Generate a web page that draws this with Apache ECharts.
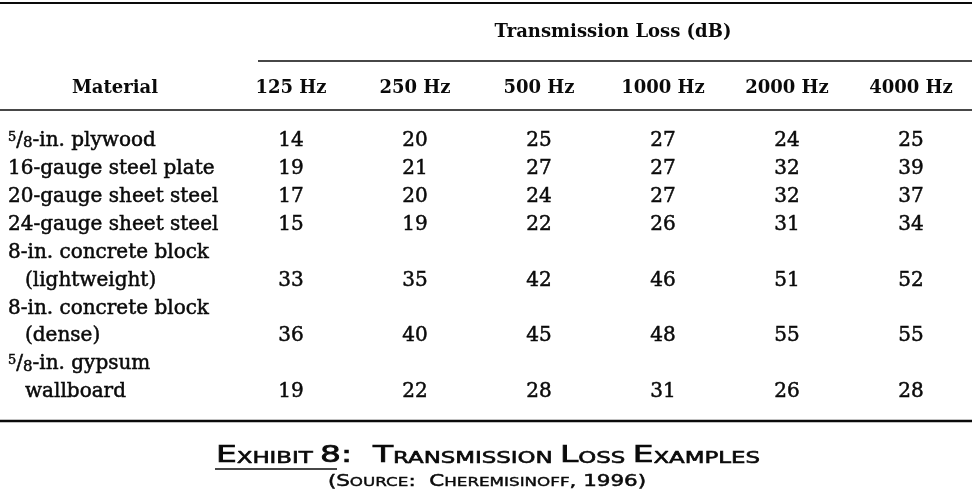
<!DOCTYPE html>
<html>
<head>
<meta charset="utf-8">
<script src="https://cdn.jsdelivr.net/npm/echarts@6/dist/echarts.min.js"></script>
<style>
  html, body { margin: 0; padding: 0; background: #fff; }
  #chart { width: 975px; height: 504px; }
</style>
</head>
<body>
<div id="chart"></div>
<script>
// ---- data ----
const frequencies = ['125 Hz', '250 Hz', '500 Hz', '1000 Hz', '2000 Hz', '4000 Hz'];
const materials = [
  '5/8-in. plywood',
  '16-gauge steel plate',
  '20-gauge sheet steel',
  '24-gauge sheet steel',
  '8-in. concrete block\n(lightweight)',
  '8-in. concrete block\n(dense)',
  '5/8-in. gypsum\nwallboard'
];
const hz125  = [14, 19, 17, 15, 33, 36, 19];
const hz250  = [20, 21, 20, 19, 35, 40, 22];
const hz500  = [25, 27, 24, 22, 42, 45, 28];
const hz1000 = [27, 27, 27, 26, 46, 48, 31];
const hz2000 = [24, 32, 32, 31, 51, 55, 26];
const hz4000 = [25, 39, 37, 34, 52, 55, 28];
const tableTitle = 'Transmission Loss (dB)';
const firstColumnTitle = 'Material';
const captionText = 'Exhibit 8:  Transmission Loss Examples';
const sourceText = '(Source:  Cheremisinoff, 1996)';

// ---- build table lines ----
const columns = [hz125, hz250, hz500, hz1000, hz2000, hz4000];
const lines = [];        // {text, cont}
const valueLine = [];    // line index where values of material sit
materials.forEach(m => {
  const parts = m.split('\n');
  parts.forEach((p, k) => lines.push({ text: p, cont: k > 0 }));
  valueLine.push(lines.length - 1);
});
const cells = [];
materials.forEach((m, r) => {
  columns.forEach((col, c) => {
    cells.push([c, valueLine[r], col[r]]);
  });
});

const SERIF = '"DejaVu Serif", "Liberation Serif", serif';
const SANS = '"DejaVu Sans", "Liberation Sans", sans-serif';
const INK = '#0a0a0a';
const THICK = { textBorderColor: INK, textBorderWidth: 0.5 };

function lineLabel(idx) {
  const ln = lines[idx];
  let t = ln.text;
  let out = '';
  if (t.startsWith('5/8')) {
    out = '{sup|5}{n|/}{sub|8}';
    t = t.slice(3);
  }
  if (ln.cont) return '{c|' + t + '}';
  return out + '{n|' + t + '}';
}

function smallCaps(str, bigKey, smallKey) {
  let out = '';
  let cur = null, buf = '';
  for (const ch of str) {
    let key;
    if (ch === ' ') key = cur || bigKey;
    else if (ch >= 'a' && ch <= 'z') key = smallKey;
    else key = bigKey;
    if (key !== cur && buf) { out += '{' + cur + '|' + buf + '}'; buf = ''; }
    cur = key;
    buf += (key === smallKey ? ch.toUpperCase() : ch);
  }
  if (buf) out += '{' + cur + '|' + buf + '}';
  return out;
}

const chart = echarts.init(document.getElementById('chart'), null, { renderer: 'canvas' });

const option = {
  backgroundColor: '#ffffff',
  animation: false,
  grid: { left: 229, right: 2, top: 127, height: 279 },
  xAxis: {
    type: 'category',
    position: 'top',
    data: frequencies,
    axisLine: { show: false },
    axisTick: { show: false },
    splitLine: { show: false },
    axisLabel: {
      margin: 39,
      verticalAlign: 'middle',
      color: INK,
      fontFamily: SERIF,
      fontWeight: 'bold',
      fontSize: 18
    }
  },
  yAxis: {
    type: 'category',
    inverse: true,
    data: lines.map((l, i) => String(i)),
    axisLine: { show: false },
    axisTick: { show: false },
    splitLine: { show: false },
    axisLabel: {
      interval: 0,
      align: 'left',
      margin: 221,
      color: INK,
      fontFamily: SERIF,
      fontSize: 20,
      formatter: (v, i) => lineLabel(i),
      rich: {
        n: Object.assign({ fontFamily: SERIF, fontSize: 20, color: INK }, THICK),
        c: Object.assign({ fontFamily: SERIF, fontSize: 20, color: INK, padding: [0, 0, 0, 17] }, THICK),
        sup: Object.assign({ fontFamily: SERIF, fontSize: 13, color: INK, verticalAlign: 'top', padding: [0, 0, 6, 0] }, THICK),
        sub: Object.assign({ fontFamily: SERIF, fontSize: 15, color: INK, verticalAlign: 'bottom' }, THICK)
      }
    }
  },
  series: [{
    type: 'scatter',
    data: cells,
    symbol: 'circle',
    symbolSize: 0,
    itemStyle: { color: INK, opacity: 1 },
    silent: true,
    emphasis: { disabled: true },
    label: {
      show: true,
      position: 'inside',
      formatter: p => String(p.value[2]),
      color: INK,
      opacity: 1,
      textBorderColor: INK,
      textBorderWidth: 0.5,
      fontFamily: SERIF,
      fontSize: 20
    }
  }],
  graphic: [
    { type: 'line', shape: { x1: 0, y1: 3, x2: 972, y2: 3 }, style: { stroke: INK, lineWidth: 2 } },
    { type: 'text', x: 613, y: 32, style: { text: tableTitle, fill: INK, font: 'bold 18px ' + SERIF, textAlign: 'center', textVerticalAlign: 'middle' } },
    { type: 'line', shape: { x1: 258, y1: 61, x2: 972, y2: 61 }, style: { stroke: INK, lineWidth: 1.6 } },
    { type: 'text', x: 115, y: 88, style: { text: firstColumnTitle, fill: INK, font: 'bold 18px ' + SERIF, textAlign: 'center', textVerticalAlign: 'middle' } },
    { type: 'line', shape: { x1: 0, y1: 110, x2: 972, y2: 110 }, style: { stroke: INK, lineWidth: 1.6 } },
    { type: 'line', shape: { x1: 0, y1: 421, x2: 972, y2: 421 }, style: { stroke: INK, lineWidth: 2.5 } },
    {
      type: 'text', x: 488, y: 455, scaleX: 1.43,
      style: {
        text: smallCaps(captionText, 'B', 's'),
        textAlign: 'center', textVerticalAlign: 'middle',
        rich: {
          B: { fontFamily: SANS, fontSize: 23, fill: INK, stroke: INK, lineWidth: 0.7, verticalAlign: 'bottom', lineHeight: 26 },
          s: { fontFamily: SANS, fontSize: 16, fill: INK, stroke: INK, lineWidth: 0.6, verticalAlign: 'bottom', lineHeight: 26, padding: [0, 0, 1.5, 0] }
        }
      }
    },
    { type: 'line', shape: { x1: 215, y1: 469, x2: 337, y2: 469 }, style: { stroke: INK, lineWidth: 1.6 } },
    {
      type: 'text', x: 487, y: 481, scaleX: 1.34,
      style: {
        text: smallCaps(sourceText, 'B', 's'),
        textAlign: 'center', textVerticalAlign: 'middle',
        rich: {
          B: { fontFamily: SANS, fontSize: 16, fill: INK, stroke: INK, lineWidth: 0.5, verticalAlign: 'bottom', lineHeight: 18 },
          s: { fontFamily: SANS, fontSize: 12.5, fill: INK, stroke: INK, lineWidth: 0.4, verticalAlign: 'bottom', lineHeight: 18, padding: [0, 0, 1, 0] }
        }
      }
    }
  ]
};
chart.setOption(option);
</script>
</body>
</html>
